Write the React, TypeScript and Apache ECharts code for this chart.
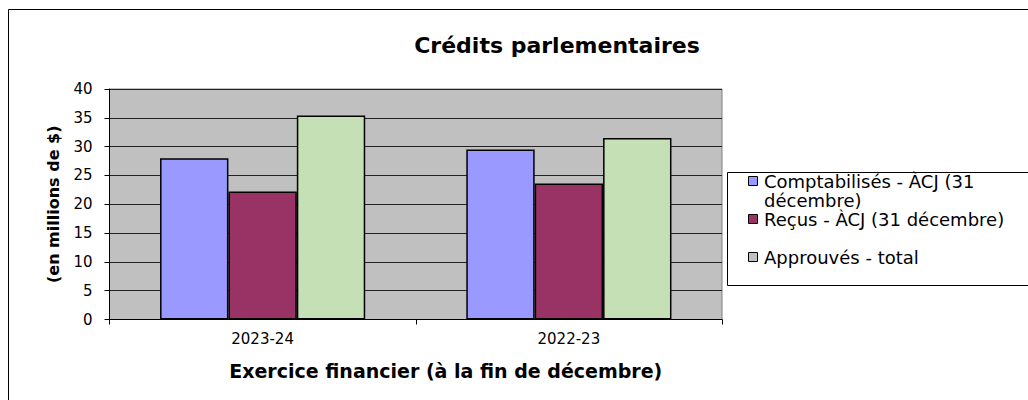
import React, { useEffect, useRef } from "react";
import * as echarts from "echarts";

const categories = ["2023-24", "2022-23"];
const seriesNames = ["Comptabilisés - ÀCJ (31 décembre)", "Reçus - ÀCJ (31 décembre)", "Approuvés - total"];
const comptabilises = [28.0, 29.5];
const recus = [22.2, 23.6];
const approuves = [35.4, 31.5];
const yTicks = [0, 5, 10, 15, 20, 25, 30, 35, 40];

const colors = ["#9999FF", "#993366", "#C5E0B4"];
const legendIconColors = ["#9999FF", "#993366", "#C0C0C0"];
const legendLines = [["Comptabilisés - ÀCJ (31", "décembre)"], ["Reçus - ÀCJ (31 décembre)"], ["Approuvés - total"]];

export default function App() {
  const ref = useRef<HTMLDivElement>(null);
  useEffect(() => {
    const chart = echarts.init(ref.current!, null, { renderer: "svg" });
    const font = "'DejaVu Sans', 'Liberation Sans', Arial, sans-serif";
    const values = [comptabilises, recus, approuves];
    const legendItemY = [181, 219, 257];
    const legendGraphics: any[] = [
      { type: "rect", shape: { x: 727.5, y: 172.5, width: 320, height: 113 }, style: { fill: "#fff", stroke: "#000", lineWidth: 1 } },
    ];
    legendLines.forEach((lines, i) => {
      legendGraphics.push({
        type: "rect",
        shape: { x: 748.5, y: legendItemY[i] - 4.5, width: 9, height: 9 },
        style: { fill: legendIconColors[i], stroke: "#000", lineWidth: 1 },
      });
      lines.forEach((t, j) => {
        legendGraphics.push({
          type: "text",
          x: 764,
          y: legendItemY[i] + j * 19,
          style: { text: t, font: `18px ${font}`, fill: "#000", verticalAlign: "middle", align: "left" },
        });
      });
    });
    chart.setOption({
      animation: false,
      backgroundColor: "#fff",
      title: {
        text: "Crédits parlementaires",
        left: 552,
        top: 29,
        textAlign: "center",
        textStyle: { fontFamily: font, fontWeight: "bold", fontSize: 22, color: "#000" },
      },
      grid: {
        left: 109.5,
        right: 306,
        top: 89,
        bottom: 80.5,
        show: true,
        backgroundColor: "#C0C0C0",
        borderColor: "#808080",
        borderWidth: 1,
      },
      xAxis: {
        type: "category",
        data: categories,
        name: "Exercice financier (à la fin de décembre)",
        nameLocation: "middle",
        nameGap: 42,
        nameTextStyle: { fontFamily: font, fontWeight: "bold", fontSize: 19, color: "#000", padding: [0, 0, 0, 60] },
        axisLine: { lineStyle: { color: "#000", width: 1 } },
        axisTick: { show: true, length: 5, lineStyle: { color: "#000" } },
        axisLabel: { fontFamily: font, fontSize: 15, color: "#000", margin: 12 },
      },
      yAxis: {
        type: "value",
        min: yTicks[0],
        max: yTicks[yTicks.length - 1],
        interval: 5,
        name: "(en millions de $)",
        nameLocation: "middle",
        nameGap: 48,
        nameTextStyle: { fontFamily: font, fontWeight: "bold", fontSize: 16, color: "#000" },
        axisLine: { show: true, lineStyle: { color: "#000", width: 1 } },
        axisTick: { show: true, length: 5, lineStyle: { color: "#000" } },
        axisLabel: { fontFamily: font, fontSize: 15, color: "#000", margin: 17 },
        splitLine: { show: true, lineStyle: { color: "#222", width: 1 } },
      },
      series: seriesNames.map((name, i) => ({
        name,
        type: "bar",
        data: values[i],
        barGap: "0%",
        barCategoryGap: "33%",
        itemStyle: { color: colors[i], borderColor: "#000", borderWidth: 1.5 },
      })),
      graphic: [
        { type: "rect", shape: { x: 8.5, y: 9.5, width: 1040, height: 420 }, style: { fill: "none", stroke: "#000", lineWidth: 1 }, silent: true },
        ...legendGraphics,
      ],
    });
    return () => chart.dispose();
  }, []);
  return <div ref={ref} style={{ position: "fixed", left: 0, top: 0, width: 1028, height: 400 }} />;
}
